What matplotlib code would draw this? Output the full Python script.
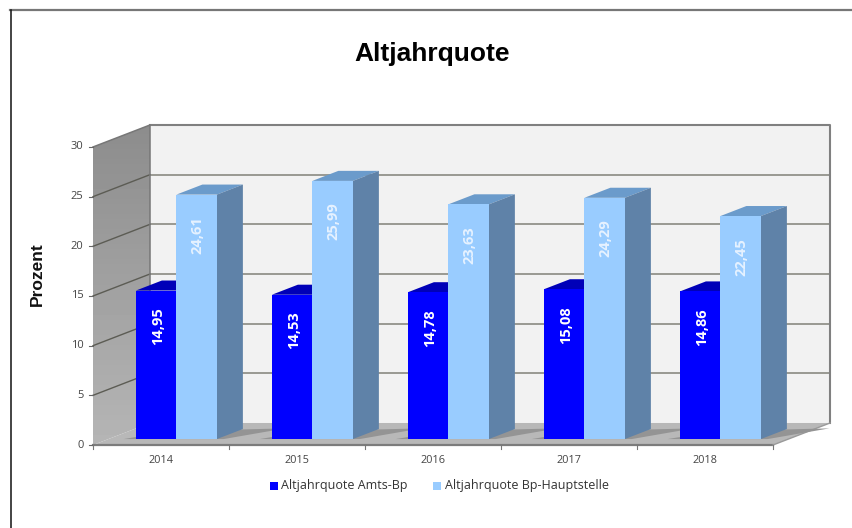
import numpy as np
import matplotlib
matplotlib.use("Agg")
import matplotlib.pyplot as plt
from matplotlib.patches import Polygon, Rectangle

years = ["2014", "2015", "2016", "2017", "2018"]
amts_bp = [14.95, 14.53, 14.78, 15.08, 14.86]
hauptstelle = [24.61, 25.99, 23.63, 24.29, 22.45]
amts_labels = ["14,95", "14,53", "14,78", "15,08", "14,86"]
haupt_labels = ["24,61", "25,99", "23,63", "24,29", "22,45"]
y_ticks = [0, 5, 10, 15, 20, 25, 30]

W, H = 852, 528
# depth of the fake 3d box, in data units (one category = 136 px, one percent = 9.93 px)
DX = 57 / 136
DY = 22 / 9.93
BAR_W = 40.5 / 136
D0, D1 = 0.27, 0.726


def proj(x, y, d=0.0):
    return (x + d * DX, y + d * DY)


plt.rcParams["font.family"] = ["Open Sans", "DejaVu Sans"]
fig = plt.figure(figsize=(W / 100, H / 100), dpi=100)
fig.patch.set_facecolor("white")

# frame lines of the screenshot
fig.add_artist(plt.Line2D([10 / W, 1], [1 - 10 / H, 1 - 10 / H], color="#777777", lw=1.6))
fig.add_artist(plt.Line2D([10.5 / W, 10.5 / W], [0, 1 - 10 / H], color="#111111", lw=1.1))

# axes: x=0 at px 93, x=5 at px 773, y=0 at px 445, y=30 at px 147
ax = fig.add_axes([93 / W, 1 - 445 / H, 680 / W, 298 / H])
ax.axis("off")


def poly(pts, **kw):
    kw.setdefault("lw", 0)
    p = Polygon(pts, closed=True, clip_on=False, **kw)
    ax.add_patch(p)
    return p


# back wall
poly([proj(0, 0, 1), proj(5, 0, 1), proj(5, 30, 1), proj(0, 30, 1)], fc="#f2f2f2", zorder=1)
for v in y_ticks[1:-1]:
    ax.plot(*zip(proj(0, v, 1), proj(5, v, 1)), color="#8a8a82", lw=1.2, zorder=2, clip_on=False)
    ax.plot(*zip(proj(0, v, 0), proj(0, v, 1)), color="#5c5c54", lw=1.0, zorder=4, clip_on=False)
ax.plot(*zip(proj(0, 30, 1), proj(5, 30, 1), proj(5, 0, 1)), color="#808080", lw=1.5, zorder=2, clip_on=False)

# left side wall with a vertical gradient
wall = poly([proj(0, 0, 0), proj(0, 0, 1), proj(0, 30, 1), proj(0, 30, 0)], fc="none", zorder=3)
grad = np.linspace(0.71, 0.55, 64).reshape(-1, 1)
im = ax.imshow(grad, cmap="gray", vmin=0, vmax=1, origin="lower", aspect="auto",
               extent=(0, DX, 0, 30 + DY), zorder=3)
im.set_clip_box(fig.bbox)
im.set_clip_path(wall)
ax.set_xlim(0, 5)
ax.set_ylim(0, 30)
ax.plot(*zip(proj(0, 30, 0), proj(0, 30, 1), proj(0, 0, 1)), color="#777777", lw=1.1, zorder=4, clip_on=False)

# floor
poly([proj(0, 0, 0), proj(5, 0, 0), proj(5, 0, 1), proj(0, 0, 1)], fc="#b8b8b8", zorder=3)
ax.plot(*zip(proj(0, 0, 0), proj(5, 0, 0)), color="#7c7c7c", lw=1.6, zorder=4, clip_on=False)
ax.plot(*zip(proj(5, 0, 0), proj(5, 0, 1)), color="#9a9a9a", lw=1, zorder=4, clip_on=False)

# ticks
for v in y_ticks:
    ax.plot(*zip(proj(0, v), proj(-0.03, v)), color="#666666", lw=0.8, clip_on=False, zorder=4)
    ax.text(-0.07, v, str(v), ha="right", va="center", fontsize=8, color="#444444")
for i in range(6):
    ax.plot([i, i], [0, -0.4], color="#777777", lw=0.8, clip_on=False, zorder=4)
for i, yr in enumerate(years):
    ax.text(i + 0.5, -1.55, yr, ha="center", va="center", fontsize=7.8, color="#444444")


def bar3d(x0, val, front, top, side, zorder):
    x1 = x0 + BAR_W
    poly([proj(x0, 0, D0), proj(x1, 0, D0), proj(x1, val, D0), proj(x0, val, D0)], fc=front, zorder=zorder + 1)
    poly([proj(x0, val, D0), proj(x1, val, D0), proj(x1, val, D1), proj(x0, val, D1)], fc=top, zorder=zorder)
    poly([proj(x1, 0, D0), proj(x1, 0, D1), proj(x1, val, D1), proj(x1, val, D0)], fc=side, zorder=zorder)


for i in range(len(years)):
    left = i + 0.5 - BAR_W
    # shadow on the floor
    sx = left - 0.09
    poly([proj(sx, 0, D0), proj(left + 2 * BAR_W + 0.05, 0, D0), proj(left + 2 * BAR_W + 0.30, 0, D1 + 0.03),
          proj(sx + 0.2, 0, D1 - 0.1)], fc="#949494", zorder=5)
    bar3d(left, amts_bp[i], "#0000ff", "#0000b8", "#00008c", 10)
    bar3d(left + BAR_W, hauptstelle[i], "#99ccff", "#6b9bcb", "#5f82a8", 12)
    cx = proj(left + BAR_W / 2, 0, D0)[0] + 0.012
    ax.text(cx, proj(0, amts_bp[i], D0)[1] - 3.6, amts_labels[i], rotation=90, ha="center", va="center",
            fontsize=10.5, fontweight="bold", color="white", zorder=20)
    cx = proj(left + 1.5 * BAR_W, 0, D0)[0] + 0.008
    ax.text(cx, proj(0, hauptstelle[i], D0)[1] - 4.1, haupt_labels[i], rotation=90, ha="center", va="center",
            fontsize=10.5, fontweight="bold", color="#e6f2ff", zorder=20)

# title and axis name
fig.text(432 / W, 1 - 54 / H, "Altjahrquote", ha="center", va="center", fontsize=19,
         fontweight="bold", family="Liberation Sans", color="black")
fig.text(37 / W, 1 - 274 / H, "Prozent", ha="center", va="center", rotation=90, fontsize=12.5,
         fontweight="bold", family="Liberation Sans", color="#111111")

# legend
fig.add_artist(Rectangle((270 / W, 1 - 490 / H), 8 / W, 8 / H, transform=fig.transFigure, fc="#0000ff", lw=0))
fig.text(281 / W, 1 - 486 / H, "Altjahrquote Amts-Bp", ha="left", va="center", fontsize=9, color="#333333")
fig.add_artist(Rectangle((433 / W, 1 - 490 / H), 8 / W, 8 / H, transform=fig.transFigure, fc="#99ccff", lw=0))
fig.text(445 / W, 1 - 486 / H, "Altjahrquote Bp-Hauptstelle", ha="left", va="center", fontsize=9, color="#333333")

fig.savefig("out.png", dpi=100)
